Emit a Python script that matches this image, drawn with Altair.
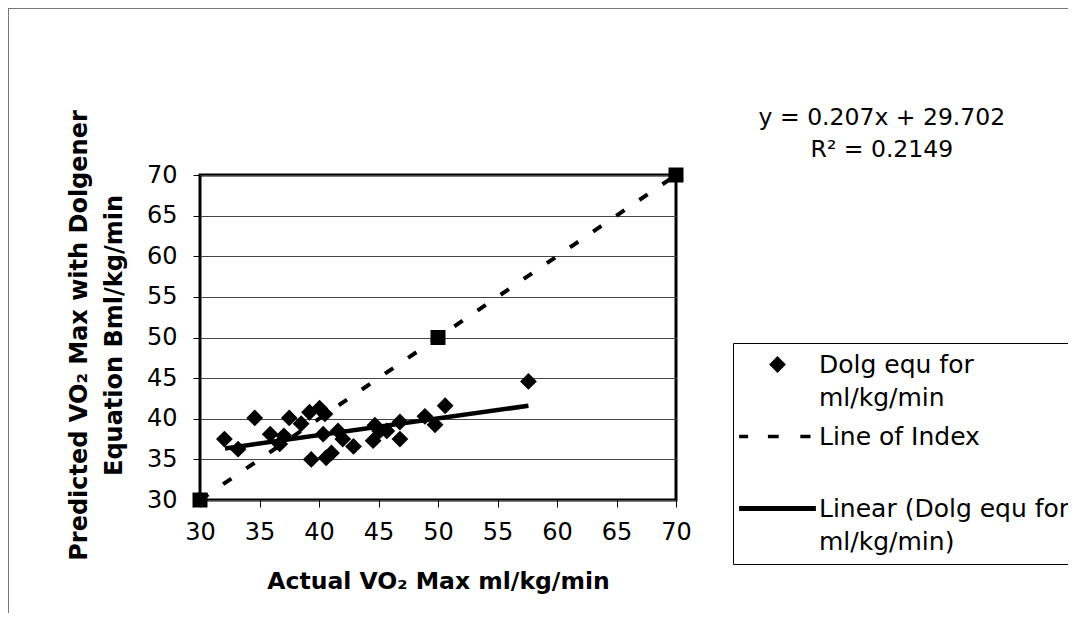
import altair as alt
import pandas as pd

# ---- data ----
actual = [32.05, 33.2, 34.6, 35.9, 37.05, 36.7, 37.5, 38.5, 39.2, 40.05,
          40.5, 39.35, 40.6, 41.05, 40.35, 41.6, 42.0, 42.9, 44.7, 44.55,
          45.1, 45.7, 46.8, 46.8, 48.9, 49.75, 50.6, 57.6]
predicted = [37.5, 36.25, 40.1, 38.1, 37.9, 36.9, 40.1, 39.4, 40.8, 41.3,
             40.6, 35.0, 35.2, 35.8, 38.1, 38.5, 37.5, 36.6, 39.2, 37.3,
             38.5, 38.5, 39.6, 37.5, 40.3, 39.25, 41.6, 44.6]
index_x = [30, 50, 70]
index_y = [30, 50, 70]
fit_x = [32.1, 57.6]
fit_y = [36.35, 41.6]
eq_lines = ["y = 0.207x + 29.702", "R\u00b2 = 0.2149"]
eq_x = [87.3, 87.3]
eq_y = [77.0, 73.1]
ticks = [30, 35, 40, 45, 50, 55, 60, 65, 70]

S1 = "Dolg equ for|ml/kg/min"
S2 = "Line of Index|"
S3 = "Linear (Dolg equ for\u00a0\u00a0|ml/kg/min)"

pts = pd.DataFrame({"x": actual, "y": predicted, "series": S1})
idx = pd.DataFrame({"x": index_x, "y": index_y})
fit = pd.DataFrame({"x": fit_x, "y": fit_y})
eq = pd.DataFrame({"x": eq_x, "y": eq_y, "t": eq_lines})

FONT = "DejaVu Sans"
xs = alt.Scale(domain=[30, 70], nice=False, zero=False)
ys = alt.Scale(domain=[30, 70], nice=False, zero=False)

xaxis = alt.Axis(values=ticks, grid=False, domain=False, tickColor="black",
                 tickSize=7, labelFont=FONT, labelFontSize=24, labelColor="black",
                 labelPadding=13, labelFlush=False,
                 title="Actual VO\u2082 Max ml/kg/min",
                 titleFont=FONT, titleFontWeight="bold", titleFontSize=23.5,
                 titleColor="black", titleY=88, titleBaseline="alphabetic")
yaxis = alt.Axis(values=ticks, grid=True, gridColor="#444", gridWidth=1,
                 domain=False, tickColor="black", tickSize=7, labelFont=FONT,
                 labelFontSize=24, labelColor="black", labelPadding=16,
                 labelFlush=False,
                 title=["Predicted VO\u2082 Max with Dolgener", "Equation Bml/kg/min"],
                 titleFont=FONT, titleFontWeight="bold", titleFontSize=24,
                 titleColor="black", titleAngle=270, titleX=-114, titleY=160,
                 titleAlign="center", titleBaseline="alphabetic", titleLineHeight=35)

# legend symbols as filled shapes (unit = 12 px with size 576)
diamond = "M0,-0.7L0.7,0L0,0.7L-0.7,0Z"
dashp = ("M-3.2,-0.15H-2.45V0.15H-3.2Z"
         "M-0.8,-0.15H0.1V0.15H-0.8Z"
         "M1.9,-0.15H2.75V0.15H1.9Z")
linep = "M-3.2,-0.2H3.2V0.2H-3.2Z"

legend = alt.Legend(title=None, orient="none", legendX=533, legendY=168,
                    strokeColor="black", fillColor="white", padding=9,
                    symbolSize=576, symbolStrokeWidth=0,
                    symbolFillColor="black", symbolOffset=23,
                    labelFont=FONT, labelFontSize=25,
                    labelColor="black", labelLimit=400, labelOffset=29,
                    labelExpr="split(datum.label, '|')")

index_line = alt.Chart(idx).mark_line(color="black", strokeWidth=4,
                                      strokeDash=[10, 18]).encode(
    x=alt.X("x:Q", scale=xs, axis=xaxis), y=alt.Y("y:Q", scale=ys, axis=yaxis))
index_pts = alt.Chart(idx).mark_square(size=225, color="black", opacity=1).encode(
    x=alt.X("x:Q", scale=xs), y=alt.Y("y:Q", scale=ys))
points = alt.Chart(pts).mark_point(filled=True, color="black", size=576,
                                   strokeWidth=0, opacity=1).encode(
    x=alt.X("x:Q", scale=xs), y=alt.Y("y:Q", scale=ys),
    shape=alt.Shape("series:N", scale=alt.Scale(domain=[S1, S2, S3],
                                                range=[diamond, dashp, linep]),
                    legend=legend))
trend = alt.Chart(fit).mark_line(color="black", strokeWidth=4.5).encode(
    x=alt.X("x:Q", scale=xs), y=alt.Y("y:Q", scale=ys))
eqtext = alt.Chart(eq).mark_text(font=FONT, fontSize=23.5, color="black",
                                 align="center", baseline="middle").encode(
    x=alt.X("x:Q", scale=xs), y=alt.Y("y:Q", scale=ys), text="t:N")

one = alt.Data(values=[{"a": 1}])
frame_top = alt.Chart(one).mark_rule(color="#777", strokeWidth=1).encode(
    x=alt.value(-192), x2=alt.value(868), y=alt.value(-166.5))
frame_left = alt.Chart(one).mark_rule(color="#777", strokeWidth=1).encode(
    x=alt.value(-191.5), y=alt.value(-167), y2=alt.value(440))

chart = alt.layer(frame_top, frame_left, index_line, index_pts, points, trend, eqtext).properties(
    width=476, height=325, autosize="none",
    padding={"left": 192, "top": 167, "right": 392, "bottom": 113},
    background="white",
).configure(
    view=alt.ViewConfig(stroke="black", strokeWidth=3),
    legend=alt.LegendConfig(rowPadding=13),
    style={"guide-label": {"lineHeight": 33}},
)

chart.save("out.html", embed_options={"renderer": "svg", "actions": False})
